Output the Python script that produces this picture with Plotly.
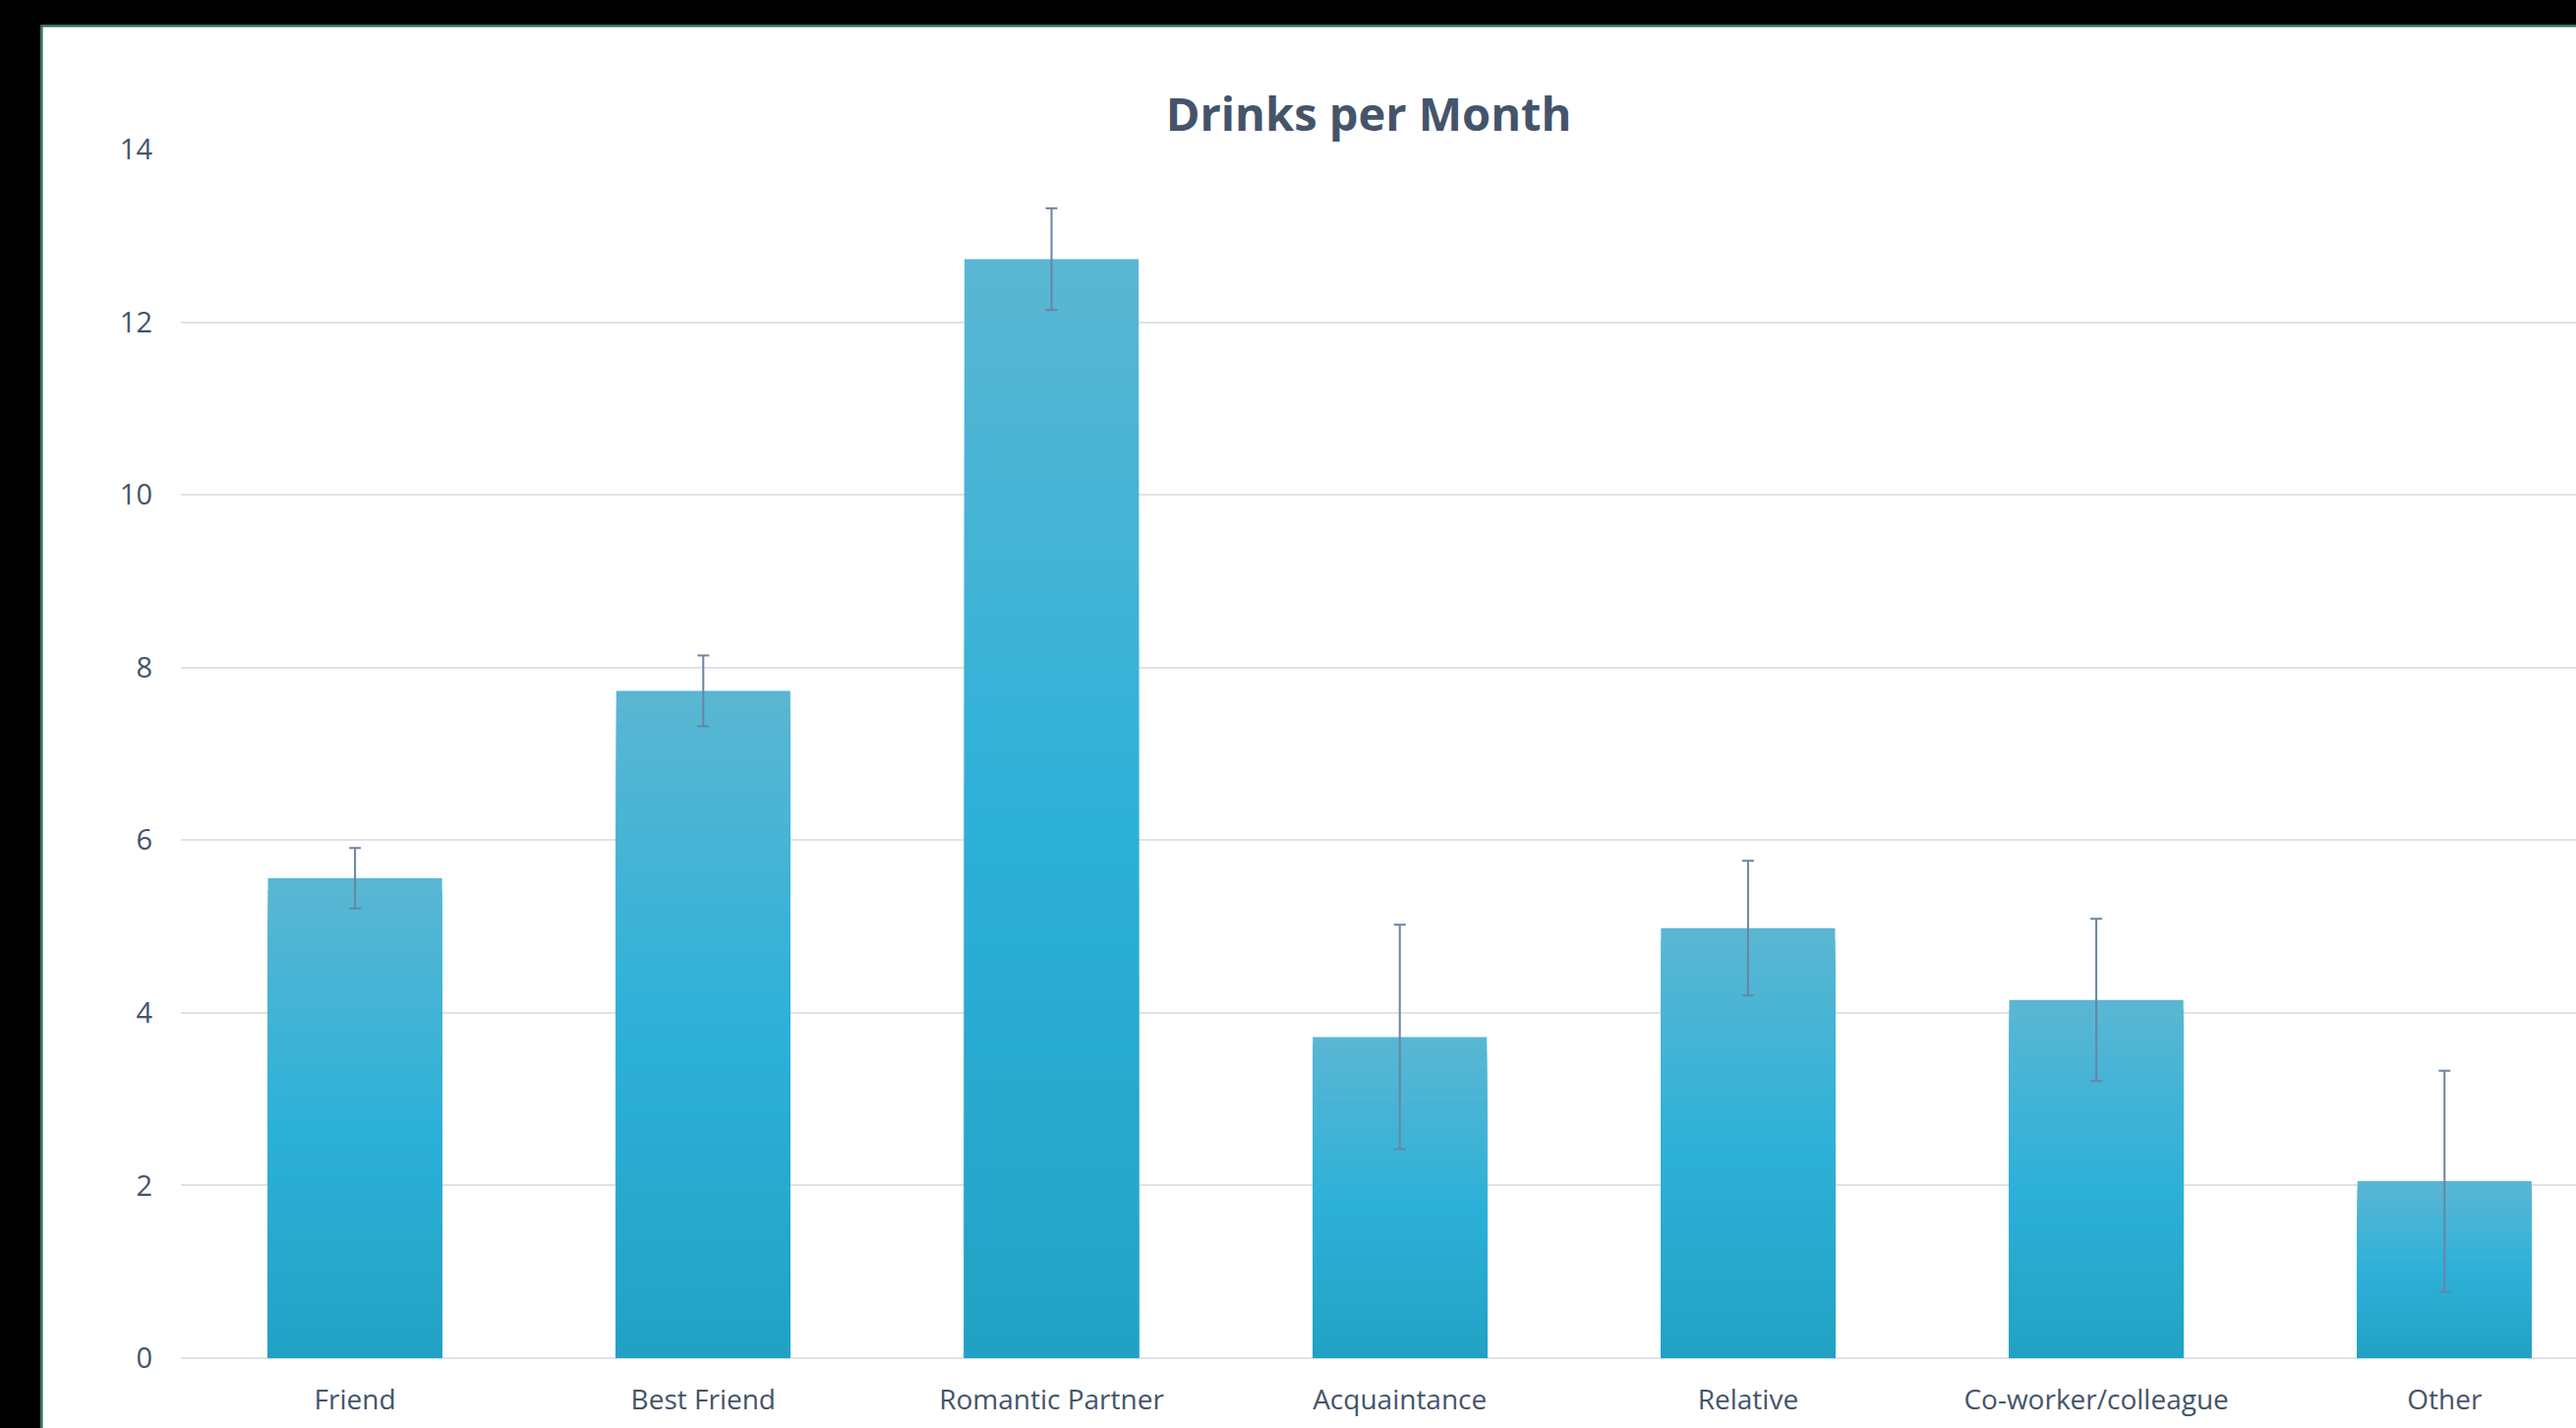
import plotly.graph_objects as go

# ---- data ----
categories = ["Friend", "Best Friend", "Romantic Partner", "Acquaintance",
              "Relative", "Co-worker/colleague", "Other"]
drinks = [5.56, 7.73, 12.73, 3.72, 4.98, 4.15, 2.05]
errors = [0.35, 0.41, 0.59, 1.30, 0.78, 0.94, 1.28]
y_ticks = [0, 2, 4, 6, 8, 10, 12, 14]

# ---- layout geometry (pixels) ----
W, H = 2620, 1452
L, R, T, B = 184, 0, 152, 71
PW, PH = W - L - R, H - T - B
BAND = 354.2  # pixel width of one category band


def px2x(px):
    return (px - L) / PW


def py2y(py):
    return (H - B - py) / PH


# gradient stops (relative height within bar: 0 bottom, 1 top)
stops = [(0.0, (33, 162, 197)), (0.5, (46, 177, 216)), (1.0, (90, 183, 211))]


def grad(t):
    for (t0, c0), (t1, c1) in zip(stops[:-1], stops[1:]):
        if t0 <= t <= t1:
            f = (t - t0) / (t1 - t0)
            c = [round(a + (b - a) * f) for a, b in zip(c0, c1)]
            return "rgb(%d,%d,%d)" % tuple(c)
    return "rgb(%d,%d,%d)" % stops[-1][1]


fig = go.Figure()
N = 40
for k in range(N):
    frac = 1 - k / N
    fig.add_trace(go.Bar(
        x=categories,
        y=[v * frac for v in drinks],
        marker=dict(color=grad(frac - 0.5 / N), line=dict(width=0)),
        showlegend=False,
        hoverinfo="skip" if k else None,
    ))

fig.add_trace(go.Scatter(
    x=categories, y=drinks, mode="markers",
    marker=dict(size=0, color="rgba(0,0,0,0)"),
    error_y=dict(type="data", array=errors, visible=True,
                 color="#6A84A6", thickness=2, width=6),
    showlegend=False,
))

txt = "#44546A"
green = "#1E6F5C"
shapes = [
    # black frame top and left
    dict(type="rect", xref="paper", yref="paper", x0=px2x(-20), x1=px2x(W + 20),
         y0=py2y(25.5), y1=py2y(-20), fillcolor="black", line=dict(width=0), layer="above"),
    dict(type="rect", xref="paper", yref="paper", x0=px2x(-20), x1=px2x(41.5),
         y0=py2y(H + 20), y1=py2y(-20), fillcolor="black", line=dict(width=0), layer="above"),
    # green border
    dict(type="rect", xref="paper", yref="paper", x0=px2x(41.5), x1=px2x(43.5),
         y0=py2y(H + 20), y1=py2y(25.5), fillcolor=green, line=dict(width=0), layer="above"),
    dict(type="rect", xref="paper", yref="paper", x0=px2x(41.5), x1=px2x(W + 20),
         y0=py2y(27.5), y1=py2y(25.5), fillcolor=green, line=dict(width=0), layer="above"),
]

fig.update_layout(
    width=W, height=H,
    margin=dict(l=L, r=R, t=T, b=B, autoexpand=False),
    paper_bgcolor="white", plot_bgcolor="white",
    barmode="overlay", bargap=0.5,
    showlegend=False,
    title=dict(text="<b>Drinks per Month</b>", x=1392 / W, xref="container",
               xanchor="center", y=1 - 117 / H, yref="container", yanchor="middle",
               font=dict(family="Open Sans", size=47, color=txt)),
    font=dict(family="Open Sans", size=28, color=txt),
    shapes=shapes,
)
fig.update_xaxes(
    range=[-0.5, -0.5 + PW / BAND], showgrid=False, showline=False, ticks="",
    tickfont=dict(family="Open Sans", size=28, color=txt), ticklabelstandoff=23,
)
fig.update_yaxes(
    range=[0, 14], tickvals=y_ticks, showgrid=True, gridcolor="#DEE3E8", gridwidth=2,
    zeroline=True, zerolinecolor="#DEE3E8", zerolinewidth=2, showline=False, ticks="",
    tickfont=dict(family="Open Sans", size=29, color=txt), ticklabelstandoff=28,
)

fig.write_html(
    "out.html",
    config={"displayModeBar": False},
    post_script="document.body.style.margin='0';document.body.style.overflow='hidden';",
)
